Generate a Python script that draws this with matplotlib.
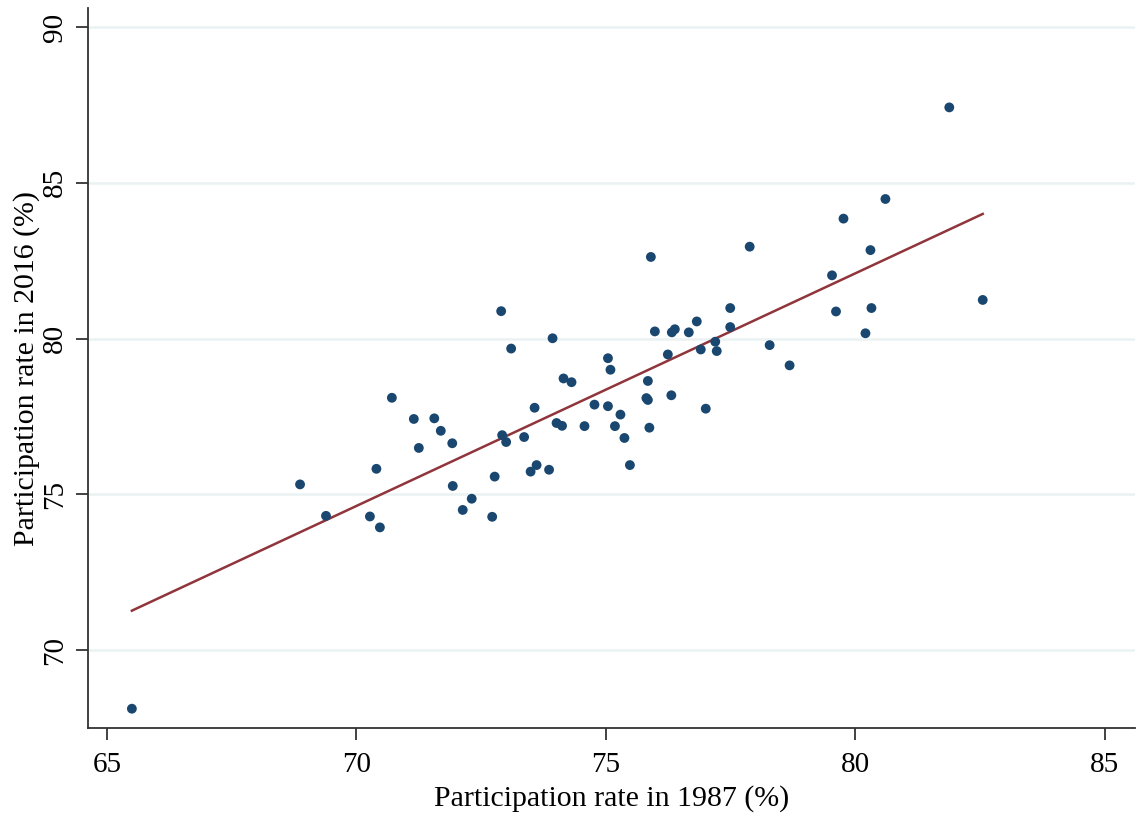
import numpy as np
import matplotlib
matplotlib.use("Agg")
import matplotlib.pyplot as plt

# participation rates
rate_1987 = [65.5, 68.87, 69.39, 70.27, 70.4, 70.47, 70.71, 71.15, 71.25, 71.56,
             71.69, 71.92, 71.93, 72.13, 72.31, 72.72, 72.77, 72.9, 72.92, 73.0,
             73.1, 73.36, 73.49, 73.57, 73.61, 73.86, 73.93, 74.01, 74.12, 74.15,
             74.31, 74.57, 74.77, 75.04, 75.04, 75.09, 75.18, 75.29, 75.37, 75.48,
             75.81, 75.84, 75.84, 75.87, 75.9, 75.98, 76.24, 76.31, 76.32, 76.38,
             76.66, 76.82, 76.9, 77.0, 77.19, 77.22, 77.49, 77.49, 77.88, 78.28,
             78.68, 79.53, 79.61, 79.76, 80.2, 80.3, 80.32, 80.6, 81.88, 82.55]
rate_2016 = [68.12, 75.32, 74.31, 74.29, 75.82, 73.94, 78.1, 77.42, 76.49, 77.44,
             77.04, 76.64, 75.27, 74.5, 74.86, 74.28, 75.57, 80.88, 76.9, 76.68,
             79.68, 76.84, 75.73, 77.78, 75.94, 75.79, 80.01, 77.29, 77.2, 78.72,
             78.6, 77.19, 77.88, 79.37, 77.83, 79.0, 77.19, 77.56, 76.81, 75.94,
             78.09, 78.03, 78.64, 77.14, 82.62, 80.23, 79.49, 78.18, 80.2, 80.3,
             80.2, 80.55, 79.65, 77.75, 79.9, 79.6, 80.37, 80.98, 82.95, 79.79,
             79.14, 82.03, 80.87, 83.85, 80.17, 82.84, 80.98, 84.48, 87.42, 81.24]

x = np.array(rate_1987)
y = np.array(rate_2016)

plt.rcParams['font.family'] = ['Liberation Serif', 'DejaVu Serif']

fig = plt.figure(figsize=(11.38, 8.16), dpi=100)
ax = fig.add_axes([0.0773, 0.1078, 0.92, 0.882])

# fitted line
b, a = np.polyfit(x, y, 1)
xs = np.array([x.min(), x.max()])
ax.plot(xs, a + b * xs, color='#90353b', lw=1.8, zorder=2)

ax.scatter(x, y, s=50, color='#1a476f', edgecolors='none', zorder=3)

ax.set_xlim(64.62, 85.6)
ax.set_ylim(67.5, 90.6)
ax.set_xticks([65, 70, 75, 80, 85])
ax.set_yticks([70, 75, 80, 85, 90])
ax.yaxis.grid(True, color='#eaf2f3', lw=1.8, zorder=0)
ax.set_axisbelow(True)

for s in ['top', 'right']:
    ax.spines[s].set_visible(False)
for s in ['left', 'bottom']:
    ax.spines[s].set_linewidth(1.3)
    ax.spines[s].set_color('#333333')

ax.tick_params(axis='both', direction='out', length=8.5, width=1.3, color='#333333', labelsize=21)
ax.tick_params(axis='x', pad=9)
ax.tick_params(axis='y', pad=6)
for lab in ax.get_yticklabels():
    lab.set_rotation(90)
    lab.set_va('center')

ax.set_xlabel('Participation rate in 1987 (%)', fontsize=21.5, labelpad=5)
ax.set_ylabel('Participation rate in 2016 (%)', fontsize=21.5, labelpad=1)

fig.savefig('out.png', dpi=100)
